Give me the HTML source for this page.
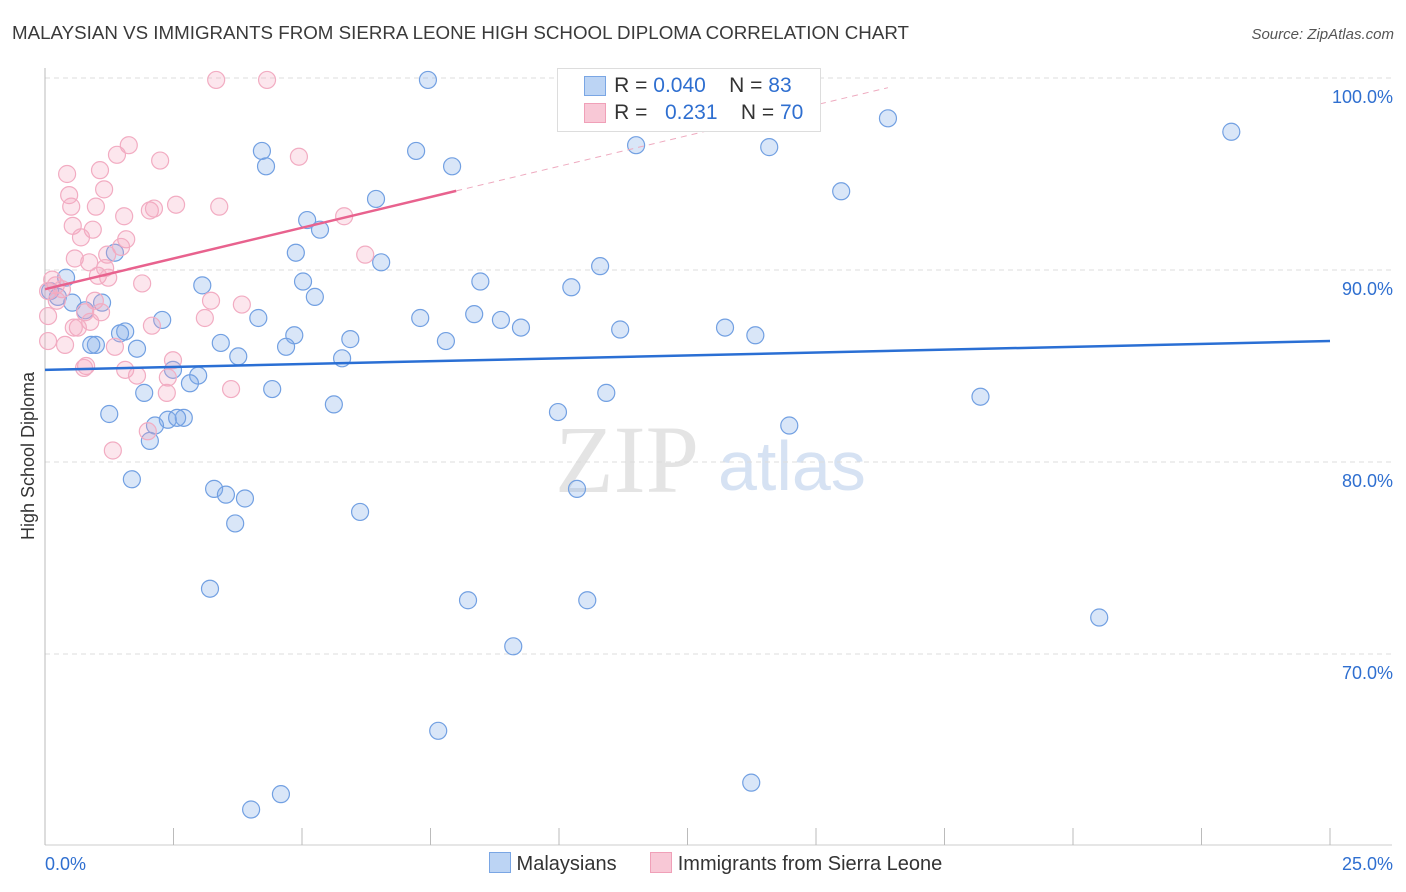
<!DOCTYPE html>
<html><head><meta charset="utf-8"><style>
body{margin:0;background:#fff;font-family:"Liberation Sans",sans-serif;}
#c{position:relative;width:1406px;height:892px;overflow:hidden}
</style></head><body>
<div id="c">
<svg id="svg" width="1406" height="892" xmlns="http://www.w3.org/2000/svg">
<text x="12" y="39" font-size="18" fill="#3a3a3a" textLength="897" lengthAdjust="spacingAndGlyphs">MALAYSIAN VS IMMIGRANTS FROM SIERRA LEONE HIGH SCHOOL DIPLOMA CORRELATION CHART</text>
<text x="1394" y="39" font-size="15" font-style="italic" fill="#555" text-anchor="end">Source: ZipAtlas.com</text>
<text x="34" y="456" font-size="18" fill="#333" text-anchor="middle" transform="rotate(-90 34 456)">High School Diploma</text>
<text x="555" y="492" font-size="96" font-family="Liberation Serif,serif" fill="#e4e4e4">ZIP</text>
<text x="718" y="490" font-size="70" fill="#d6e2f3">atlas</text>
<g id="grid"></g><g id="axes"></g><g id="pts"></g><g id="trend"></g>
</svg>
<div style="position:absolute;left:557px;top:68px;width:262px;height:62px;border:1px solid #ddd;background:#fff;font-size:21px;color:#333">
 <div style="position:absolute;left:27px;top:5px;white-space:pre"><span style="position:absolute;left:-1px;top:2px;width:20px;height:18px;background:#bcd4f4;border:1px solid #7aa6e4"></span>     R = <span style="color:#2f6fd0">0.040</span>    N = <span style="color:#2f6fd0">83</span></div>
 <div style="position:absolute;left:27px;top:32px;white-space:pre"><span style="position:absolute;left:-1px;top:2px;width:20px;height:18px;background:#f8c8d6;border:1px solid #f0a0b8"></span>     R =   <span style="color:#2f6fd0">0.231</span>    N = <span style="color:#2f6fd0">70</span></div>
</div>
<div style="position:absolute;top:852px;left:489px;font-size:20px;color:#333;white-space:nowrap">
 <span><span style="display:inline-block;width:20px;height:19px;background:#bcd4f4;border:1px solid #7aa6e4;vertical-align:-3px"></span> Malaysians</span>
 <span style="margin-left:28px"><span style="display:inline-block;width:20px;height:19px;background:#f8c8d6;border:1px solid #f0a0b8;vertical-align:-3px"></span> Immigrants from Sierra Leone</span>
</div>
</div>
<script>
const xTickVals=[0,25];
const yTickVals=[100,90,80,70];
const blueX=[7.45,4.22,4.30,7.22,7.92,11.50,14.09,16.40,23.08,15.49,6.44,5.10,5.35,4.88,6.54,1.36,10.80,0.41,5.02,8.47,3.06,10.24,5.25,0.10,0.25,0.53,1.11,0.78,4.15,7.30,8.35,8.87,9.26,11.19,13.23,13.82,2.28,1.56,1.46,0.99,0.90,1.79,3.42,4.85,4.69,5.94,7.80,3.76,5.78,2.49,2.98,2.82,1.93,4.42,10.92,1.25,5.62,9.98,18.20,2.39,2.70,2.57,2.14,2.04,14.48,1.69,3.29,3.52,3.89,10.35,6.13,3.70,3.21,8.23,10.55,20.51,9.11,7.65,13.74,4.59,4.01];
const blueY=[99.9,96.2,95.4,96.2,95.4,96.5,96.4,97.9,97.2,94.1,93.7,92.6,92.1,90.9,90.4,90.9,90.2,89.6,89.4,89.4,89.2,89.1,88.6,88.9,88.6,88.3,88.3,87.9,87.5,87.5,87.7,87.4,87.0,86.9,87.0,86.6,87.4,86.8,86.7,86.1,86.1,85.9,86.2,86.6,86.0,86.4,86.3,85.5,85.4,84.8,84.5,84.1,83.6,83.8,83.6,82.5,83.0,82.6,83.4,82.2,82.3,82.3,81.9,81.1,81.9,79.1,78.6,78.3,78.1,78.6,77.4,76.8,73.4,72.8,72.8,71.9,70.4,66.0,63.3,62.7,61.9];
const pinkX=[3.33,4.32,1.63,1.40,2.24,4.94,0.43,1.07,0.47,1.15,0.51,0.99,1.54,2.04,2.55,3.39,2.12,5.82,0.54,0.93,0.70,1.58,1.48,1.21,6.23,0.58,0.86,0.14,1.17,1.03,1.23,1.89,0.21,0.33,0.06,0.23,0.97,3.23,3.83,0.78,1.09,3.11,0.06,0.88,0.64,0.56,2.08,0.06,0.39,1.36,2.49,0.80,0.76,1.56,1.79,2.39,3.62,2.37,2.00,1.32];
const pinkY=[99.9,99.9,96.5,96.0,95.7,95.9,95.0,95.2,93.9,94.2,93.3,93.3,92.8,93.1,93.4,93.3,93.2,92.8,92.3,92.1,91.7,91.6,91.2,90.8,90.8,90.6,90.4,89.5,90.1,89.7,89.6,89.3,89.2,89.0,88.9,88.4,88.4,88.4,88.2,87.8,87.8,87.5,87.6,87.3,87.0,87.0,87.1,86.3,86.1,86.0,85.3,85.0,84.9,84.8,84.5,84.4,83.8,83.6,81.6,80.6];
const blueTrend=[84.8,86.3];      // y at x=0 and x=25
const pinkTrend=[89.0,0.64];      // intercept, slope
const pinkSolidEnd=8.0, pinkDashEnd=16.4;

const X0=45,X1=1330,Y0=845;
const sx=v=>X0+(v/25)*(X1-X0);
const sy=v=>78+(100-v)*19.2;
const NS='http://www.w3.org/2000/svg';
function mk(tag,attrs,parent){const e=document.createElementNS(NS,tag);for(const k in attrs)e.setAttribute(k,attrs[k]);parent.appendChild(e);return e;}
const grid=document.getElementById('grid'),axes=document.getElementById('axes'),pts=document.getElementById('pts'),tr=document.getElementById('trend');
yTickVals.forEach(v=>{
 const l=mk('line',{x1:X0,x2:1392,y1:sy(v),y2:sy(v),stroke:'#ddd','stroke-dasharray':'5,4'},grid);
 
 
 const t=mk('text',{x:1393,y:sy(v)+25,'font-size':18,fill:'#2f6fd0','text-anchor':'end'},axes);
 t.textContent=v.toFixed(1)+'%';
 
 
});
let ax=mk('line',{x1:X0,x2:X0,y1:68,y2:Y0,stroke:'#bbb'},axes);


let bx=mk('line',{x1:X0,x2:1392,y1:Y0,y2:Y0,stroke:'#ccc'},axes);


for(let i=0;i<=10;i++){
 const t=mk('line',{x1:sx(i*2.5),x2:sx(i*2.5),y1:828,y2:Y0,stroke:'#bbb'},axes);
 
 
}
xTickVals.forEach((v,i)=>{
 const t=mk('text',{x:i===0?45:1393,y:870,'font-size':18,fill:'#2f6fd0','text-anchor':i===0?'start':'end'},axes);
 t.textContent=v.toFixed(1)+'%';
 
 
});
blueX.forEach((v,i)=>{
 const c=mk('circle',{cx:sx(v),cy:sy(blueY[i]),r:8.5,fill:'rgba(130,172,232,0.3)',stroke:'#72a0e2','stroke-width':1.2},pts);
 
 
});
pinkX.forEach((v,i)=>{
 const c=mk('circle',{cx:sx(v),cy:sy(pinkY[i]),r:8.5,fill:'rgba(244,165,190,0.28)',stroke:'#f2acc2','stroke-width':1.2},pts);
 
 
});
const bl=mk('line',{x1:sx(0),y1:sy(blueTrend[0]),x2:sx(25),y2:sy(blueTrend[1]),stroke:'#2a6fd4','stroke-width':2.5},tr);


const pf=x=>pinkTrend[0]+pinkTrend[1]*x;
const pl=mk('line',{x1:sx(0),y1:sy(pf(0)),x2:sx(pinkSolidEnd),y2:sy(pf(pinkSolidEnd)),stroke:'#e8628e','stroke-width':2.5},tr);


const pd=mk('line',{x1:sx(pinkSolidEnd),y1:sy(pf(pinkSolidEnd)),x2:sx(pinkDashEnd),y2:sy(pf(pinkDashEnd)),stroke:'#eeaabf','stroke-width':1,'stroke-dasharray':'6,5'},tr);


</script>
</body></html>
